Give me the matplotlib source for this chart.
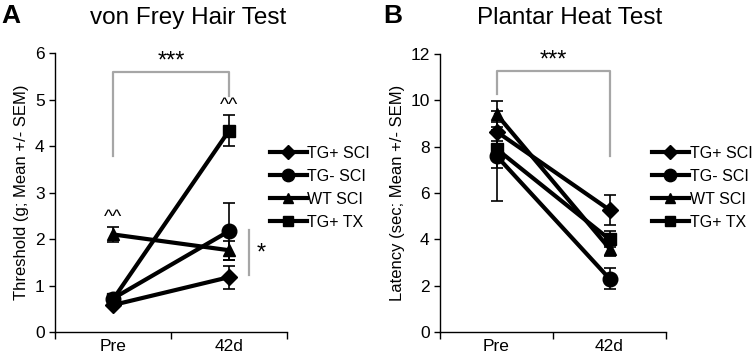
import matplotlib
matplotlib.use("Agg")
import matplotlib.pyplot as plt
import numpy as np

plt.rcParams['font.family'] = ['Liberation Sans', 'DejaVu Sans']

# categories and groups
timepoints = ["Pre", "42d"]
groups = ["TG+ SCI", "TG- SCI", "WT SCI", "TG+ TX"]
markers = ["D", "o", "^", "s"]
msizes = [8, 10.5, 9, 8]

# von Frey: threshold (g), mean and SEM
vf_mean = {
    "TG+ SCI": [0.58, 1.18],
    "TG- SCI": [0.72, 2.17],
    "WT SCI": [2.10, 1.76],
    "TG+ TX": [0.70, 4.33],
}
vf_sem = {
    "TG+ SCI": [0.05, 0.25],
    "TG- SCI": [0.08, 0.61],
    "WT SCI": [0.17, 0.20],
    "TG+ TX": [0.07, 0.33],
}

# plantar heat: latency (sec), mean and SEM
ph_mean = {
    "TG+ SCI": [8.65, 5.27],
    "TG- SCI": [7.60, 2.30],
    "WT SCI": [9.40, 3.60],
    "TG+ TX": [7.90, 4.00],
}
ph_sem = {
    "TG+ SCI": [0.40, 0.65],
    "TG- SCI": [1.94, 0.45],
    "WT SCI": [0.55, 0.30],
    "TG+ TX": [0.83, 0.35],
}

GRAY = "#a6a6a6"

fig = plt.figure(figsize=(7.54, 3.63), dpi=100)
axA = fig.add_axes([0.0729, 0.0854, 0.3077, 0.768])
axB = fig.add_axes([0.5836, 0.0854, 0.2997, 0.766])

x = np.arange(len(timepoints))


def draw_panel(ax, means, sems, ymax, ystep, ylabel):
    for g, m, ms in zip(groups, markers, msizes):
        ax.errorbar(x, means[g], yerr=sems[g], fmt="none", ecolor="black",
                    elinewidth=1.2, capsize=4, capthick=1.2, zorder=2)
        ax.plot(x, means[g], color="black", lw=3, marker=m, ms=ms,
                label=g, zorder=3)
    ax.set_xlim(-0.5, 1.5)
    ax.set_ylim(0, ymax)
    ax.set_yticks(np.arange(0, ymax + 0.01, ystep))
    ax.set_xticks(x)
    ax.set_xticklabels(timepoints, fontsize=12.5)
    ax.tick_params(axis="x", length=0, pad=5)
    ax.set_xticks([-0.5, 0.5, 1.5], minor=True)
    ax.tick_params(axis="x", which="minor", length=5, width=1, direction="out")
    ax.tick_params(axis="y", labelsize=12.5, length=4, width=1, direction="out")
    for s in ["top", "right"]:
        ax.spines[s].set_visible(False)
    for s in ["left", "bottom"]:
        ax.spines[s].set_linewidth(1)
    ax.set_ylabel(ylabel, fontsize=12, labelpad=4)


draw_panel(axA, vf_mean, vf_sem, 6, 1, "Threshold (g; Mean +/- SEM)")
draw_panel(axB, ph_mean, ph_sem, 12, 2, "Latency (sec; Mean +/- SEM)")

# significance brackets
axA.plot([0, 0, 1, 1], [3.78, 5.6, 5.6, 5.07], color=GRAY, lw=1.6, zorder=1)
axA.text(0.5, 5.82, "***", ha="center", va="center", fontsize=17)
axA.text(1, 4.88, "^^", ha="center", va="center", fontsize=14)
axA.text(0, 2.47, "^^", ha="center", va="center", fontsize=14)
axA.plot([1.17, 1.17], [1.23, 2.19], color=GRAY, lw=1.6, clip_on=False)
axA.text(1.28, 1.68, "*", ha="center", va="center", fontsize=17)

axB.plot([0, 0, 1, 1], [10.25, 11.25, 11.25, 7.6], color=GRAY, lw=1.6, zorder=1)
axB.text(0.5, 11.7, "***", ha="center", va="center", fontsize=17)

# legends
for ax, xl in [(axA, 0.358), (axB, 0.8647)]:
    h, l = ax.get_legend_handles_labels()
    fig.legend(h, l, loc="upper left", bbox_to_anchor=(xl, 0.598),
               frameon=False, fontsize=11.5, handlelength=2.3,
               handletextpad=0.05, labelspacing=0.5, borderaxespad=0,
               borderpad=0, markerscale=0.85)

# titles and panel letters
fig.text(0.25, 0.95, "von Frey Hair Test", ha="center", va="center", fontsize=17.5)
fig.text(0.755, 0.95, "Plantar Heat Test", ha="center", va="center", fontsize=17.5)
fig.text(0.002, 0.955, "A", ha="left", va="center", fontsize=19, fontweight="bold")
fig.text(0.508, 0.955, "B", ha="left", va="center", fontsize=19, fontweight="bold")

fig.savefig("out.png", dpi=100)
